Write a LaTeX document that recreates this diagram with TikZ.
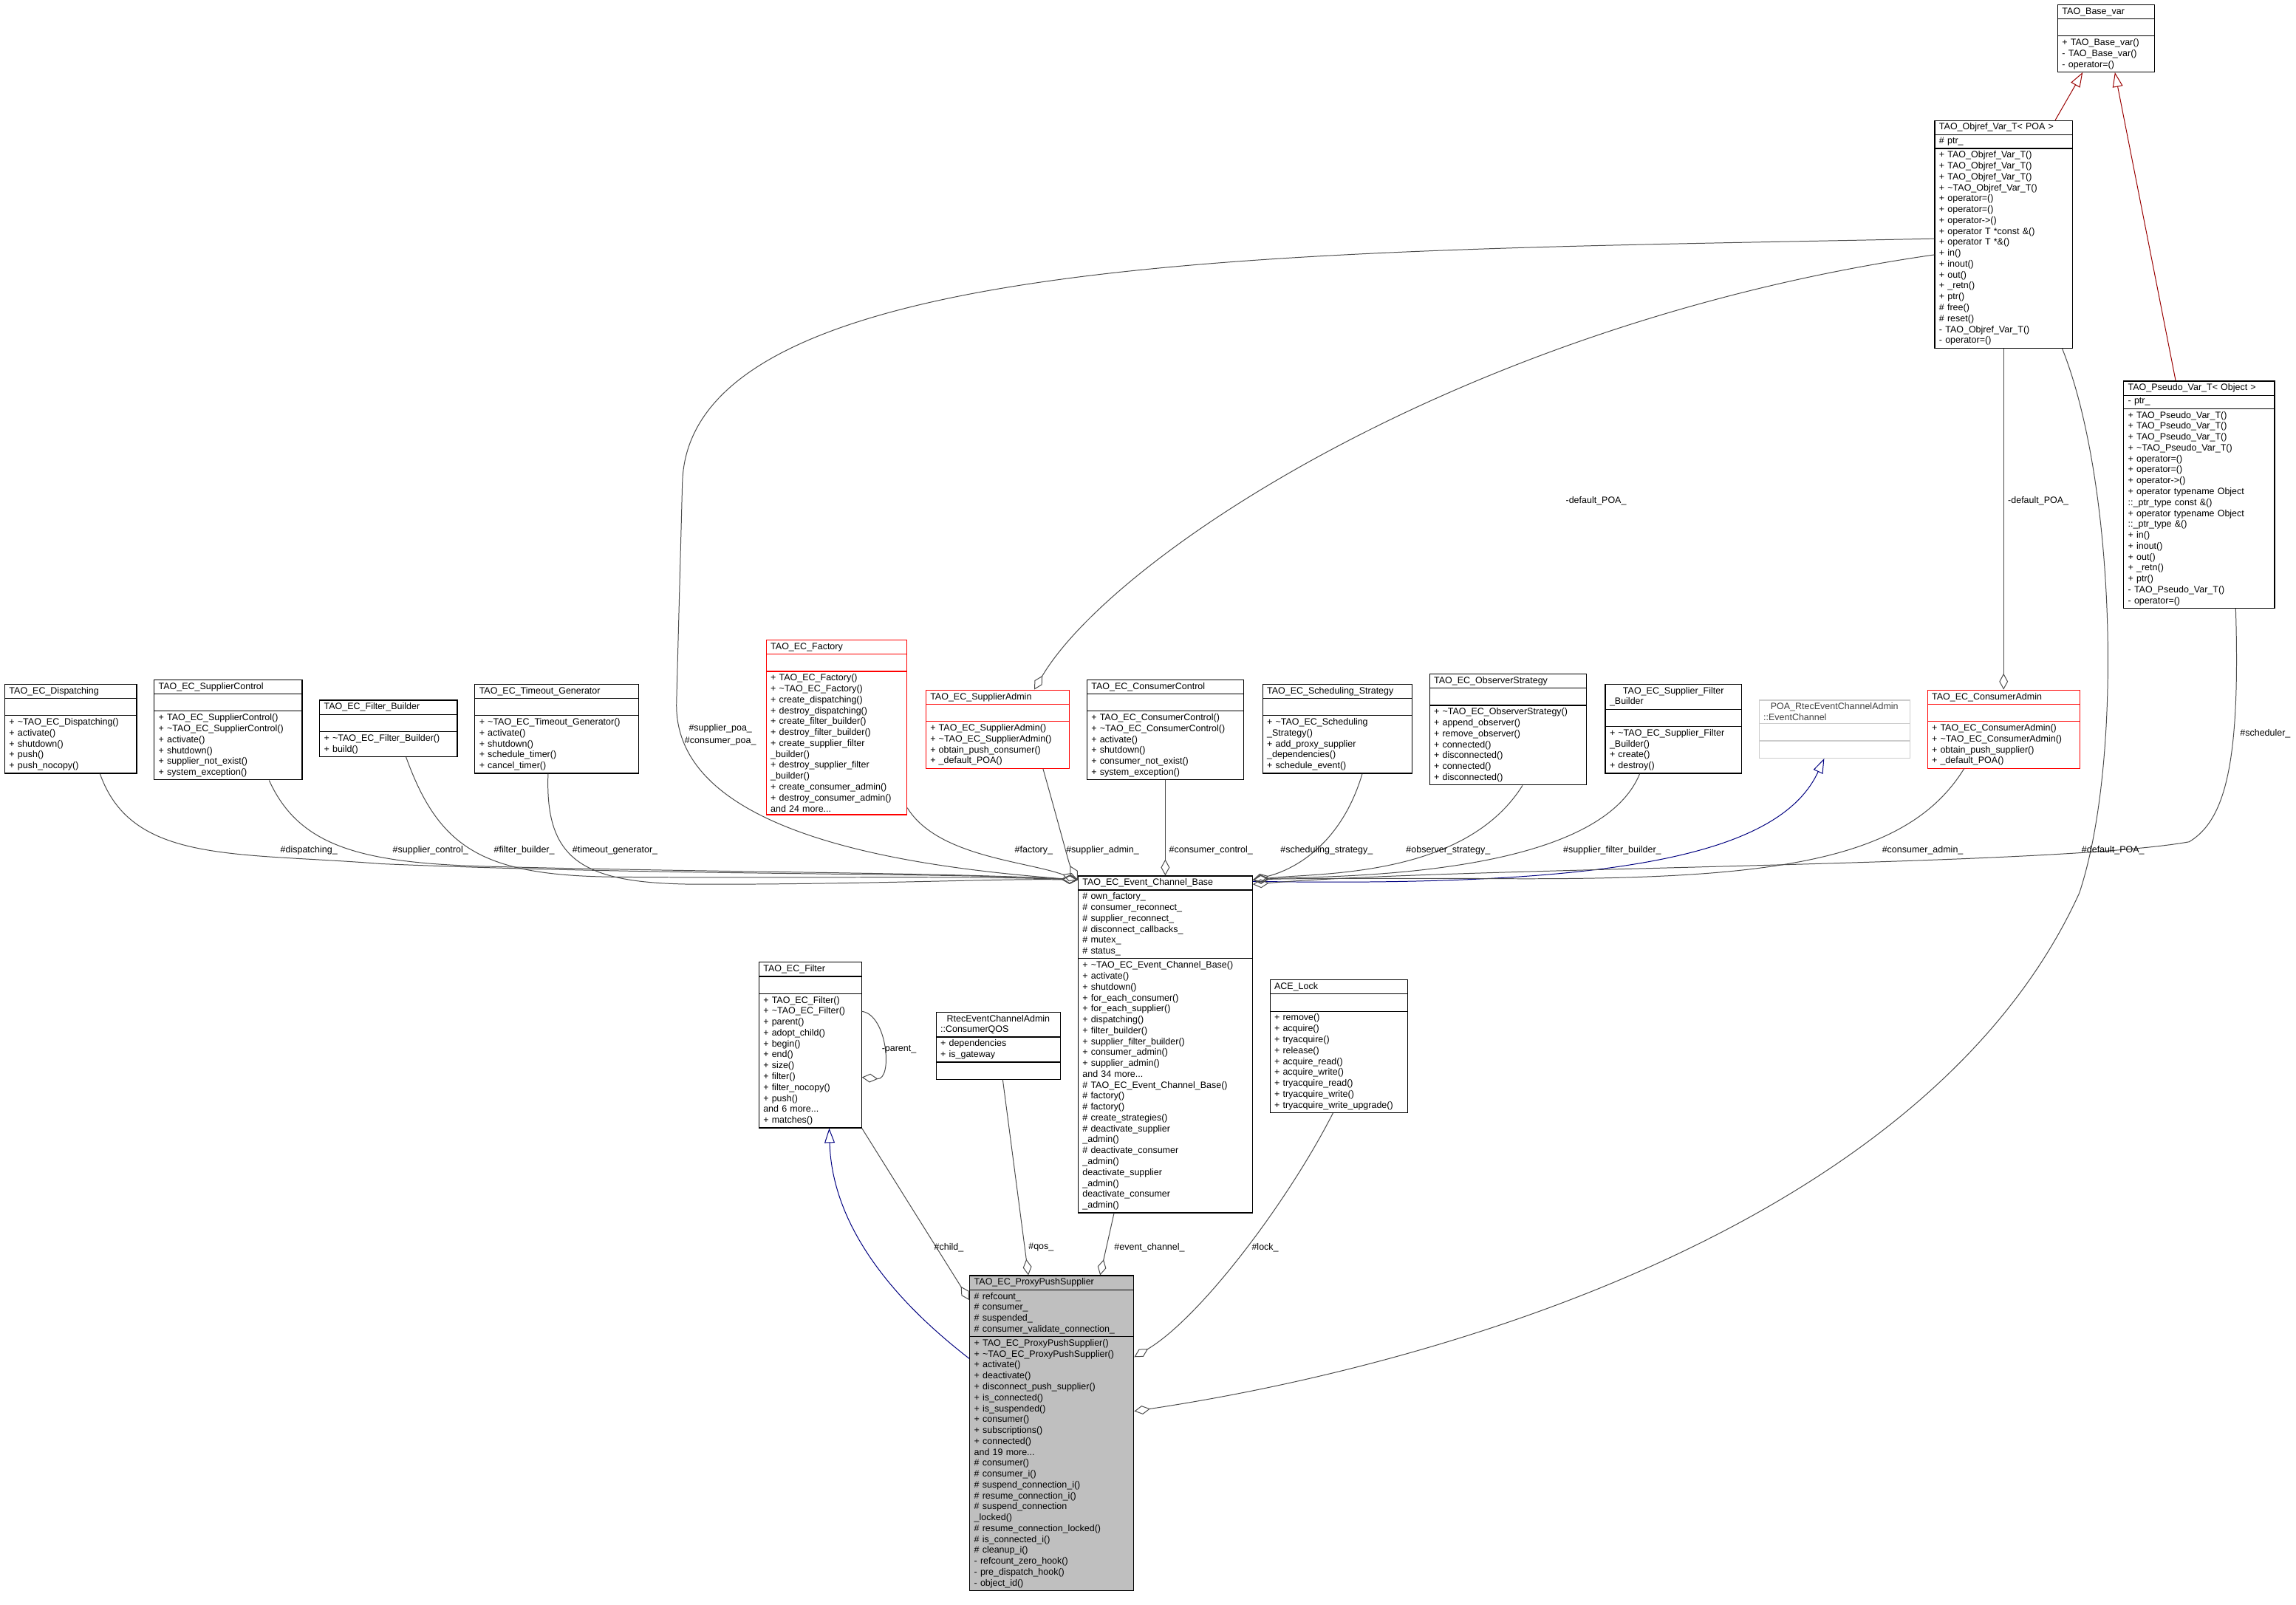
\documentclass[tikz,border=0pt]{standalone}
\usepackage{fontspec}
\setmainfont{Liberation Sans}
\usetikzlibrary{shapes.multipart,arrows.meta}
\newcommand{\fs}{\fontsize{6.3}{7.45}\selectfont}
\newcommand{\tl}{\textasciitilde{}}
\tikzset{
 cls/.style={draw=black, line width=0.6pt, rectangle split, rectangle split parts=3, text width=#1, inner xsep=3pt, inner ysep=1.6pt, anchor=north west, font=\fs, align=left},
 redcls/.style={cls=#1, draw=red},
 graycls/.style={cls=#1, draw=black!20, text=black!75},
 agg/.style={draw=black!70, line width=0.5pt, -{Diamond[open,length=11pt,width=6pt]}},
 inhred/.style={draw=red!60!black, line width=0.5pt, -{Triangle[open,length=10pt,width=7pt]}},
 inhblue/.style={draw=blue!50!black, line width=0.5pt, -{Triangle[open,length=10pt,width=7pt]}},
 lbl/.style={font=\fs, inner sep=0pt, align=center}
}
\newcommand{\E}{\rule{0pt}{8pt}}
\begin{document}
\begin{tikzpicture}[x=1pt,y=-1pt]
\useasboundingbox[fill=white] (0,0) rectangle (1568,1096);

\node[cls=60] (base) at (1405,3) {\centering TAO\_Base\_var\nodepart{two}\E\nodepart{three}+ TAO\_Base\_var()\\- TAO\_Base\_var()\\- operator=()};
\node[cls=88] (objref) at (1321,82) {\centering TAO\_Objref\_Var\_T< POA >\nodepart{two}\# ptr\_\nodepart{three}+ TAO\_Objref\_Var\_T()\\+ TAO\_Objref\_Var\_T()\\+ TAO\_Objref\_Var\_T()\\+ \tl TAO\_Objref\_Var\_T()\\+ operator=()\\+ operator=()\\+ operator->()\\+ operator T *const \&()\\+ operator T *\&()\\+ in()\\+ inout()\\+ out()\\+ \_retn()\\+ ptr()\\\# free()\\\# reset()\\- TAO\_Objref\_Var\_T()\\- operator=()};
\node[cls=97] (pseudo) at (1450,260) {\centering TAO\_Pseudo\_Var\_T< Object >\nodepart{two}- ptr\_\nodepart{three}+ TAO\_Pseudo\_Var\_T()\\+ TAO\_Pseudo\_Var\_T()\\+ TAO\_Pseudo\_Var\_T()\\+ \tl TAO\_Pseudo\_Var\_T()\\+ operator=()\\+ operator=()\\+ operator->()\\+ operator typename Object\\::\_ptr\_type const \&()\\+ operator typename Object\\::\_ptr\_type \&()\\+ in()\\+ inout()\\+ out()\\+ \_retn()\\+ ptr()\\- TAO\_Pseudo\_Var\_T()\\- operator=()};

\node[cls=84] (disp) at (3,467) {\centering TAO\_EC\_Dispatching\nodepart{two}\E\nodepart{three}+ \tl TAO\_EC\_Dispatching()\\+ activate()\\+ shutdown()\\+ push()\\+ push\_nocopy()};
\node[cls=95] (supctl) at (105,464) {\centering TAO\_EC\_SupplierControl\nodepart{two}\E\nodepart{three}+ TAO\_EC\_SupplierControl()\\+ \tl TAO\_EC\_SupplierControl()\\+ activate()\\+ shutdown()\\+ supplier\_not\_exist()\\+ system\_exception()};
\node[cls=88] (fb) at (218,478) {\centering TAO\_EC\_Filter\_Builder\nodepart{two}\E\nodepart{three}+ \tl TAO\_EC\_Filter\_Builder()\\+ build()};
\node[cls=106] (tg) at (324,467) {\centering TAO\_EC\_Timeout\_Generator\nodepart{two}\E\nodepart{three}+ \tl TAO\_EC\_Timeout\_Generator()\\+ activate()\\+ shutdown()\\+ schedule\_timer()\\+ cancel\_timer()};
\node[redcls=90] (fac) at (523,437) {\centering TAO\_EC\_Factory\nodepart{two}\E\nodepart{three}+ TAO\_EC\_Factory()\\+ \tl TAO\_EC\_Factory()\\+ create\_dispatching()\\+ destroy\_dispatching()\\+ create\_filter\_builder()\\+ destroy\_filter\_builder()\\+ create\_supplier\_filter\\\_builder()\\+ destroy\_supplier\_filter\\\_builder()\\+ create\_consumer\_admin()\\+ destroy\_consumer\_admin()\\and 24 more...};
\node[redcls=92] (sa) at (632,471) {\centering TAO\_EC\_SupplierAdmin\nodepart{two}\E\nodepart{three}+ TAO\_EC\_SupplierAdmin()\\+ \tl TAO\_EC\_SupplierAdmin()\\+ obtain\_push\_consumer()\\+ \_default\_POA()};
\node[cls=101] (cc) at (742,464) {\centering TAO\_EC\_ConsumerControl\nodepart{two}\E\nodepart{three}+ TAO\_EC\_ConsumerControl()\\+ \tl TAO\_EC\_ConsumerControl()\\+ activate()\\+ shutdown()\\+ consumer\_not\_exist()\\+ system\_exception()};
\node[cls=96] (ss) at (862,467) {\centering TAO\_EC\_Scheduling\_Strategy\nodepart{two}\E\nodepart{three}+ \tl TAO\_EC\_Scheduling\\\_Strategy()\\+ add\_proxy\_supplier\\\_dependencies()\\+ schedule\_event()};
\node[cls=101] (os) at (976,460) {\centering TAO\_EC\_ObserverStrategy\nodepart{two}\E\nodepart{three}+ \tl TAO\_EC\_ObserverStrategy()\\+ append\_observer()\\+ remove\_observer()\\+ connected()\\+ disconnected()\\+ connected()\\+ disconnected()};
\node[cls=87] (sfb) at (1096,467) {\centering TAO\_EC\_Supplier\_Filter\\\_Builder\nodepart{two}\E\nodepart{three}+ \tl TAO\_EC\_Supplier\_Filter\\\_Builder()\\+ create()\\+ destroy()};
\node[graycls=97] (poa) at (1201,478) {\centering POA\_RtecEventChannelAdmin\\::EventChannel\nodepart{two}\E\nodepart{three}\E};
\node[redcls=98] (ca) at (1316,471) {\centering TAO\_EC\_ConsumerAdmin\nodepart{two}\E\nodepart{three}+ TAO\_EC\_ConsumerAdmin()\\+ \tl TAO\_EC\_ConsumerAdmin()\\+ obtain\_push\_supplier()\\+ \_default\_POA()};

\node[cls=113] (ecb) at (736,598) {\centering TAO\_EC\_Event\_Channel\_Base\nodepart{two}\# own\_factory\_\\\# consumer\_reconnect\_\\\# supplier\_reconnect\_\\\# disconnect\_callbacks\_\\\# mutex\_\\\# status\_\nodepart{three}+ \tl TAO\_EC\_Event\_Channel\_Base()\\+ activate()\\+ shutdown()\\+ for\_each\_consumer()\\+ for\_each\_supplier()\\+ dispatching()\\+ filter\_builder()\\+ supplier\_filter\_builder()\\+ consumer\_admin()\\+ supplier\_admin()\\and 34 more...\\\# TAO\_EC\_Event\_Channel\_Base()\\\# factory()\\\# factory()\\\# create\_strategies()\\\# deactivate\_supplier\\\_admin()\\\# deactivate\_consumer\\\_admin()\\* deactivate\_supplier\\\_admin()\\* deactivate\_consumer\\\_admin()};
\node[cls=88] (lock) at (867,669) {\centering ACE\_Lock\nodepart{two}\E\nodepart{three}+ remove()\\+ acquire()\\+ tryacquire()\\+ release()\\+ acquire\_read()\\+ acquire\_write()\\+ tryacquire\_read()\\+ tryacquire\_write()\\+ tryacquire\_write\_upgrade()};
\node[cls=79] (qos) at (639,691) {\centering RtecEventChannelAdmin\\::ConsumerQOS\nodepart{two}+ dependencies\\+ is\_gateway\nodepart{three}\E};
\node[cls=64] (filt) at (518,657) {\centering TAO\_EC\_Filter\nodepart{two}\E\nodepart{three}+ TAO\_EC\_Filter()\\+ \tl TAO\_EC\_Filter()\\+ parent()\\+ adopt\_child()\\+ begin()\\+ end()\\+ size()\\+ filter()\\+ filter\_nocopy()\\+ push()\\and 6 more...\\+ matches()};
\node[cls=106, fill=black!25] (pps) at (662,871) {\centering TAO\_EC\_ProxyPushSupplier\nodepart{two}\# refcount\_\\\# consumer\_\\\# suspended\_\\\# consumer\_validate\_connection\_\nodepart{three}+ TAO\_EC\_ProxyPushSupplier()\\+ \tl TAO\_EC\_ProxyPushSupplier()\\+ activate()\\+ deactivate()\\+ disconnect\_push\_supplier()\\+ is\_connected()\\+ is\_suspended()\\+ consumer()\\+ subscriptions()\\+ connected()\\and 19 more...\\\# consumer()\\\# consumer\_i()\\\# suspend\_connection\_i()\\\# resume\_connection\_i()\\\# suspend\_connection\\\_locked()\\\# resume\_connection\_locked()\\\# is\_connected\_i()\\\# cleanup\_i()\\- refcount\_zero\_hook()\\- pre\_dispatch\_hook()\\- object\_id()};

% inheritance
\draw[inhred] ([xshift=-12pt]objref.north east) -- ([xshift=-16pt]base.south);
\draw[inhred] ([xshift=-16pt]pseudo.north) -- ([xshift=6pt]base.south);
\draw[inhblue] ([yshift=-4pt]ecb.north east) .. controls (1100,606) and (1215,585) .. ([xshift=-7pt]poa.south);
\draw[inhblue] ([yshift=-57pt]pps.north west) .. controls (600,880) and (568,830) .. ([xshift=13pt]filt.south);

% aggregations into ECB (left)
\draw[agg] ([xshift=20pt]disp.south) .. controls (90,590) and (160,582) .. (260,590) .. controls (450,598) and (650,596) .. ([yshift=-3pt]ecb.north west);
\draw[agg] ([xshift=28pt]supctl.south) .. controls (205,580) and (250,590) .. (340,592) .. controls (500,596) and (650,596) .. ([yshift=-3pt]ecb.north west);
\draw[agg] ([xshift=12pt]fb.south) .. controls (300,580) and (330,598) .. (420,599) .. controls (550,600) and (660,598) .. ([yshift=-3pt]ecb.north west);
\draw[agg] ([xshift=-6pt]tg.south) .. controls (372,590) and (400,604) .. (480,604) .. controls (600,604) and (680,600) .. ([yshift=-3pt]ecb.north west);
\draw[agg] ([yshift=5pt]fac.south east) .. controls (640,585) and (700,588) .. ([yshift=-3pt]ecb.north west);
\draw[agg] ([xshift=31pt]sa.south) .. controls (725,570) and (730,590) .. ([yshift=-3pt]ecb.north west);
\draw[agg] ([yshift=-3pt]objref.west) .. controls (900,172) and (470,168) .. (466,330) -- (462,480) .. controls (460,570) and (620,592) .. ([yshift=-3pt]ecb.north west);
\draw[agg] (cc.south) -- (ecb.north);
% aggregations into ECB (right)
\draw[agg] ([xshift=17pt]ss.south) .. controls (915,580) and (880,595) .. ([yshift=-3pt]ecb.north east);
\draw[agg] ([xshift=10pt]os.south) .. controls (1000,600) and (900,596) .. ([yshift=-3pt]ecb.north east);
\draw[agg] ([xshift=-23pt]sfb.south) .. controls (1090,602) and (900,598) .. ([yshift=-3pt]ecb.north east);
\draw[agg] ([xshift=-27pt]ca.south) .. controls (1300,592) and (1200,602) .. (1000,600) .. controls (930,600) and (880,600) .. ([yshift=-3pt]ecb.north east);
\draw[agg] ([xshift=25pt]pseudo.south) .. controls (1530,520) and (1520,560) .. (1495,575) .. controls (1400,592) and (1000,592) .. ([yshift=-6pt]ecb.north east);
% objref -> admins
\draw[agg] ([yshift=-14pt]objref.west) .. controls (1000,220) and (760,380) .. ([xshift=25pt]sa.north);
\draw[agg] (objref.south) -- (ca.north);
% into PPS
\draw[agg] ([xshift=40pt]objref.south) .. controls (1445,330) and (1450,520) .. (1420,610) .. controls (1320,830) and (1000,930) .. ([yshift=15pt]pps.east);
\draw[agg] ([xshift=-4pt]lock.south) .. controls (880,820) and (820,900) .. ([yshift=52pt]pps.east);
\draw[agg] ([xshift=-35pt]ecb.south) -- ([xshift=33pt]pps.north);
\draw[agg] ([xshift=3pt]qos.south) -- ([xshift=-16pt]pps.north);
\draw[agg] (filt.south east) -- ([yshift=-17pt]pps.north west);
\draw[agg] ([yshift=23pt]filt.east) .. controls (606,693) and (610,738) .. ([yshift=-22pt]filt.east);

% labels
\node[lbl] (l1) at (211,581) {\#dispatching\_};
\node[lbl] (l2) at (294,581) {\#supplier\_control\_};
\node[lbl] (l3) at (358,581) {\#filter\_builder\_};
\node[lbl] (l4) at (420,581) {\#timeout\_generator\_};
\node[lbl] (l5) at (706,581) {\#factory\_};
\node[lbl] (l6) at (753,581) {\#supplier\_admin\_};
\node[lbl] (l7) at (827,581) {\#consumer\_control\_};
\node[lbl] (l8) at (906,581) {\#scheduling\_strategy\_};
\node[lbl] (l9) at (989,581) {\#observer\_strategy\_};
\node[lbl] (l10) at (1101,581) {\#supplier\_filter\_builder\_};
\node[lbl] (l11) at (1313,581) {\#consumer\_admin\_};
\node[lbl] (l12) at (1443,581) {\#default\_POA\_};
\node[lbl] (l13) at (1547,501) {\#scheduler\_};
\node[lbl, font=\fontsize{6.3}{8.5}\selectfont] (l14) at (492,502) {\#supplier\_poa\_\\\#consumer\_poa\_};
\node[lbl] (l15) at (1090,342) {-default\_POA\_};
\node[lbl] (l16) at (1392,342) {-default\_POA\_};
\node[lbl] (l17) at (614,717) {-parent\_};
\node[lbl] (l18) at (648,852) {\#child\_};
\node[lbl] (l19) at (711,852) {\#qos\_};
\node[lbl] (l20) at (785,852) {\#event\_channel\_};
\node[lbl] (l21) at (864,852) {\#lock\_};
\end{tikzpicture}
\end{document}
